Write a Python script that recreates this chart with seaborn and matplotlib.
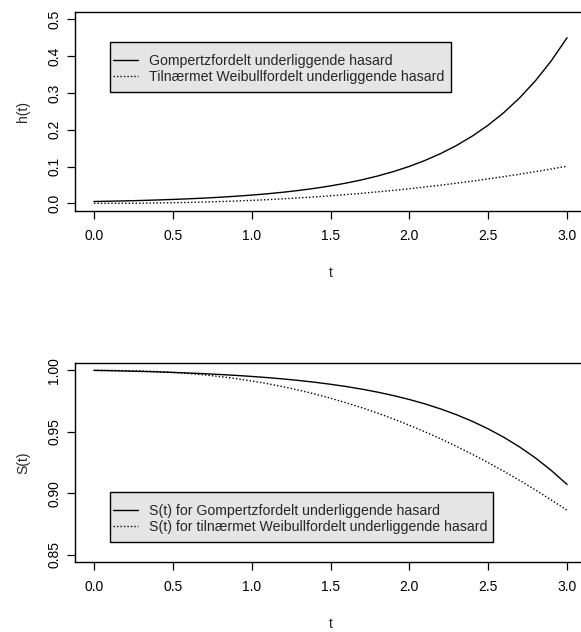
import numpy as np
import pandas as pd
import matplotlib
matplotlib.use("Agg")
import matplotlib.pyplot as plt
from matplotlib.patches import Rectangle
import seaborn as sns

# time grid
t = [0.0, 0.1, 0.2, 0.3, 0.4, 0.5, 0.6, 0.7, 0.8, 0.9, 1.0,
     1.1, 1.2, 1.3, 1.4, 1.5, 1.6, 1.7, 1.8, 1.9, 2.0,
     2.1, 2.2, 2.3, 2.4, 2.5, 2.6, 2.7, 2.8, 2.9, 3.0]

# hazard functions
h_gompertz = [0.0050, 0.0058, 0.0067, 0.0078, 0.0091, 0.0106, 0.0123, 0.0143,
              0.0166, 0.0193, 0.0224, 0.0260, 0.0302, 0.0351, 0.0408, 0.0474,
              0.0551, 0.0640, 0.0744, 0.0864, 0.1004, 0.1167, 0.1356, 0.1575,
              0.1830, 0.2126, 0.2470, 0.2870, 0.3334, 0.3874, 0.4501]
h_weibull = [0.0000, 0.0000, 0.0002, 0.0005, 0.0010, 0.0016, 0.0025, 0.0036,
             0.0048, 0.0063, 0.0081, 0.0100, 0.0123, 0.0148, 0.0175, 0.0205,
             0.0238, 0.0273, 0.0312, 0.0353, 0.0397, 0.0445, 0.0495, 0.0548,
             0.0604, 0.0664, 0.0727, 0.0793, 0.0862, 0.0934, 0.1010]

# survival functions
s_gompertz = [1.00000, 0.99975, 0.99946, 0.99914, 0.99876, 0.99833, 0.99784,
              0.99728, 0.99664, 0.99591, 0.99507, 0.99411, 0.99302, 0.99176,
              0.99033, 0.98869, 0.98683, 0.98469, 0.98225, 0.97946, 0.97628,
              0.97267, 0.96853, 0.96383, 0.95847, 0.95237, 0.94544, 0.93757,
              0.92865, 0.91852, 0.90710]
s_weibull = [1.00000, 0.99997, 0.99982, 0.99952, 0.99904, 0.99836, 0.99746,
             0.99633, 0.99494, 0.99330, 0.99138, 0.98917, 0.98668, 0.98388,
             0.98077, 0.97734, 0.97360, 0.96953, 0.96514, 0.96039, 0.95532,
             0.94992, 0.94416, 0.93807, 0.93165, 0.92488, 0.91778, 0.91035,
             0.90258, 0.89449, 0.88608]

x_ticks = [0.0, 0.5, 1.0, 1.5, 2.0, 2.5, 3.0]
x_ticklabels = ["0.0", "0.5", "1.0", "1.5", "2.0", "2.5", "3.0"]
h_ticks = [0.0, 0.1, 0.2, 0.3, 0.4, 0.5]
h_ticklabels = ["0.0", "0.1", "0.2", "0.3", "0.4", "0.5"]
s_ticks = [0.85, 0.90, 0.95, 1.00]
s_ticklabels = ["0.85", "0.90", "0.95", "1.00"]

labels_h = ["Gompertzfordelt underliggende hasard",
            "Tilnærmet Weibullfordelt underliggende hasard"]
labels_s = ["S(t) for Gompertzfordelt underliggende hasard",
            "S(t) for tilnærmet Weibullfordelt underliggende hasard"]

df = pd.DataFrame({"t": t, "hg": h_gompertz, "hw": h_weibull,
                   "sg": s_gompertz, "sw": s_weibull})

sns.set_style("white")
plt.rcParams["font.family"] = ["Liberation Sans", "DejaVu Sans"]
FS = 10
LEG_FS = 10.15
W, H = 581, 632

fig = plt.figure(figsize=(W / 100, H / 100), dpi=100)
ax1 = fig.add_axes([75 / W, 1 - 210.7 / H, 511 / W, 198.7 / H])
ax2 = fig.add_axes([75 / W, 1 - 562 / H, 511 / W, 199 / H])

DOTTED = (0, (1, 1.5))


def style_axes(ax, yticks, yticklabels, ylim, ylabel):
    ax.set_xlim(-0.12, 3.12)
    ax.set_ylim(*ylim)
    ax.set_xticks(x_ticks)
    ax.set_xticklabels(x_ticklabels)
    ax.set_yticks(yticks)
    ax.set_yticklabels(yticklabels, rotation=90, va="center")
    ax.tick_params(axis="both", direction="out", length=5.8, width=0.9,
                   color="black", labelsize=FS, labelcolor="black",
                   left=True, bottom=True)
    ax.tick_params(axis="x", pad=7.2)
    ax.tick_params(axis="y", pad=4.0)
    for sp in ax.spines.values():
        sp.set_visible(True)
        sp.set_color("black")
        sp.set_linewidth(1.0)
    ax.set_xlabel("t", fontsize=FS, labelpad=16.6)
    ax.set_ylabel(ylabel, fontsize=FS, labelpad=12.5)
    ax.grid(False)


def draw_legend(ax, box):
    # box = (left, top, right, bottom) in figure pixels
    left, top, right, bottom = box
    ax.add_patch(Rectangle((left / W, 1 - bottom / H),
                           (right - left) / W, (bottom - top) / H,
                           transform=fig.transFigure, facecolor="#e5e5e5",
                           edgecolor="black", linewidth=1.0, zorder=4,
                           clip_on=False))
    leg = ax.legend(loc="upper left",
                    bbox_to_anchor=((left + 2.7) / W, 1 - (top + 12.5) / H),
                    bbox_transform=fig.transFigure, borderaxespad=0,
                    fontsize=LEG_FS, frameon=False, handlelength=1.82,
                    handletextpad=0.78, labelspacing=0.14, borderpad=0)
    leg.set_zorder(5)


sns.lineplot(data=df, x="t", y="hg", ax=ax1, color="black", lw=1.0,
             label=labels_h[0])
sns.lineplot(data=df, x="t", y="hw", ax=ax1, color="black", lw=1.0,
             dashes=False, linestyle=DOTTED, label=labels_h[1])
style_axes(ax1, h_ticks, h_ticklabels, (-0.02, 0.52), "h(t)")
draw_legend(ax1, (110, 41.7, 450.7, 91.7))

sns.lineplot(data=df, x="t", y="sg", ax=ax2, color="black", lw=1.0,
             label=labels_s[0])
sns.lineplot(data=df, x="t", y="sw", ax=ax2, color="black", lw=1.0,
             dashes=False, linestyle=DOTTED, label=labels_s[1])
style_axes(ax2, s_ticks, s_ticklabels, (0.844, 1.006), "S(t)")
draw_legend(ax2, (110, 491.7, 492.7, 541.7))

fig.savefig("out.png", dpi=100)
